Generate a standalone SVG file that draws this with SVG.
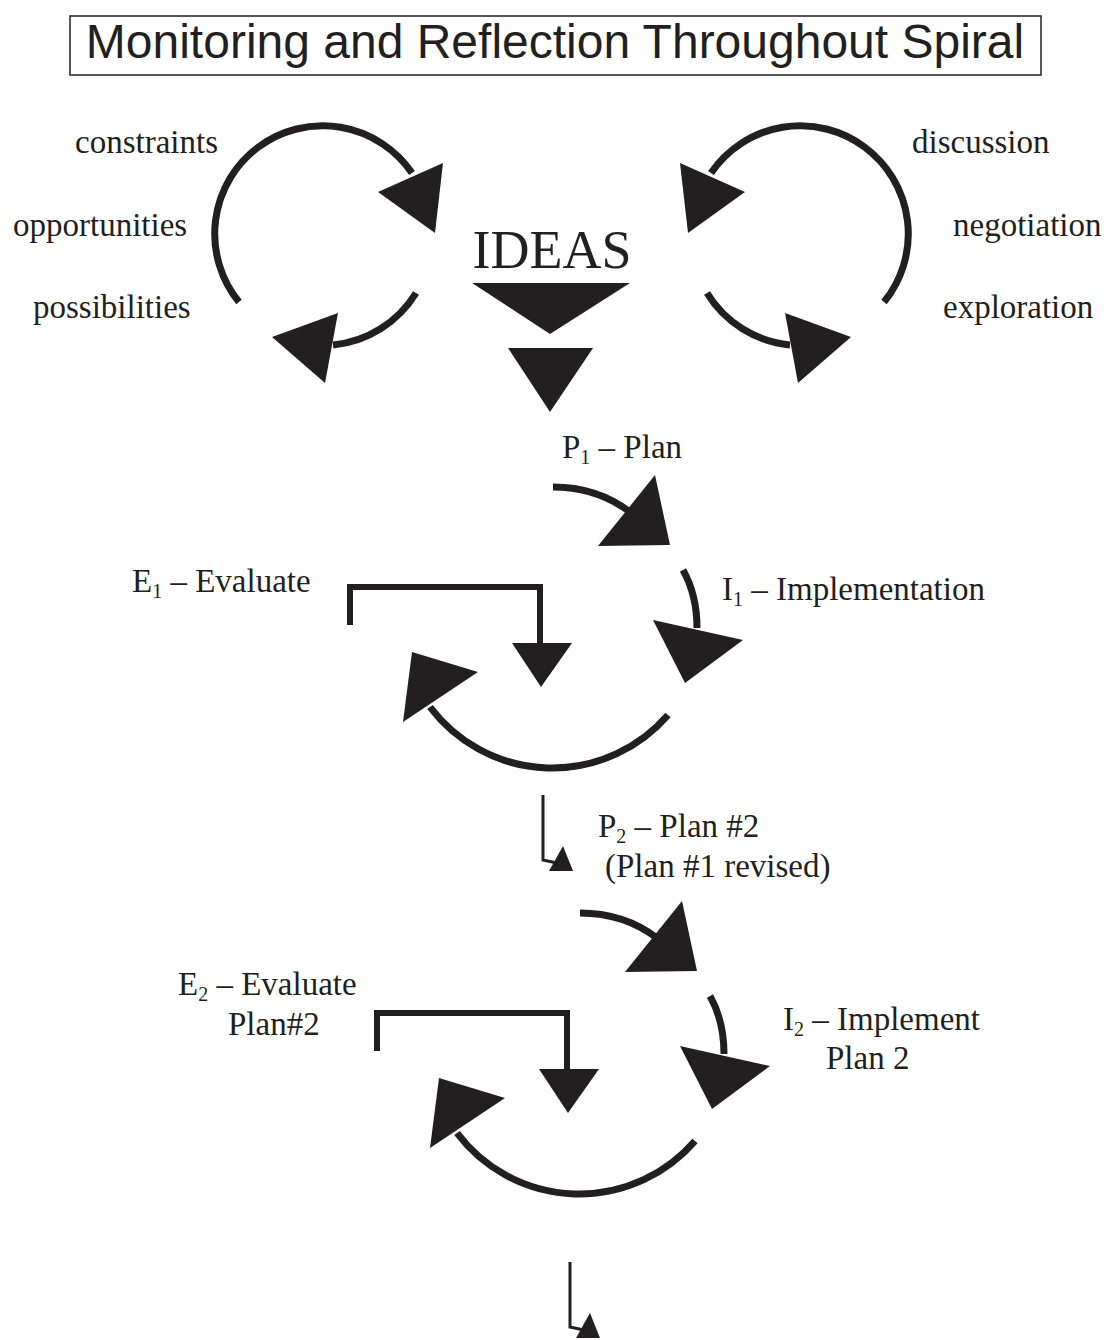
<svg xmlns="http://www.w3.org/2000/svg" width="1112" height="1340" viewBox="0 0 1112 1340">
<style>
.t{font-family:"Liberation Serif","Times New Roman",serif;font-size:33px;fill:#231f20}
.sub{font-size:20px}
.arc{fill:none;stroke:#231f20;stroke-width:7}
.br{fill:none;stroke:#231f20;stroke-width:6;stroke-linejoin:miter}
.thin{fill:none;stroke:#231f20;stroke-width:3;stroke-linejoin:miter}
.head{fill:#231f20}
</style>
<rect width="1112" height="1340" fill="#fff"/>
<g id="title">
<rect x="70" y="16" width="971" height="59" fill="none" stroke="#231f20" stroke-width="1.5"/>
<text x="555" y="58" text-anchor="middle" font-family="'Liberation Sans',Arial,sans-serif" font-size="48" fill="#231f20">Monitoring and Reflection Throughout Spiral</text>
</g>
<g id="left-labels">
<text class="t" x="75" y="153">constraints</text>
<text class="t" x="13" y="236">opportunities</text>
<text class="t" x="33" y="318">possibilities</text>
</g>
<g id="right-labels">
<text class="t" x="912" y="153">discussion</text>
<text class="t" x="953" y="236">negotiation</text>
<text class="t" x="943" y="318">exploration</text>
</g>
<g id="ideas">
<text x="552" y="268" text-anchor="middle" font-family="'Liberation Serif','Times New Roman',serif" font-size="54" fill="#231f20">IDEAS</text>
<polygon class="head" points="472,283 630,283 550,334"/>
<polygon class="head" points="508,348 593,348 550,412"/>
</g>
<g id="p1"><text class="t" x="562" y="458">P<tspan class="sub" dy="6">1</tspan><tspan dy="-6"> – Plan</tspan></text></g>
<g id="i1"><text class="t" x="722" y="600">I<tspan class="sub" dy="6">1</tspan><tspan dy="-6"> – Implementation</tspan></text></g>
<g id="e1"><text class="t" x="132" y="592">E<tspan class="sub" dy="6">1</tspan><tspan dy="-6"> – Evaluate</tspan></text></g>
<g id="p2">
<text class="t" x="598" y="837">P<tspan class="sub" dy="6">2</tspan><tspan dy="-6"> – Plan #2</tspan></text>
<text class="t" x="605" y="877">(Plan #1 revised)</text>
</g>
<g id="e2">
<text class="t" x="178" y="995">E<tspan class="sub" dy="6">2</tspan><tspan dy="-6"> – Evaluate</tspan></text>
<text class="t" x="228" y="1035">Plan#2</text>
</g>
<g id="i2">
<text class="t" x="783" y="1030">I<tspan class="sub" dy="6">2</tspan><tspan dy="-6"> – Implement</tspan></text>
<text class="t" x="826" y="1069">Plan 2</text>
</g>
<g id="connectors">
<path class="arc" d="M239,302 A108,108 0 1 1 412,173"/>
<polygon class="head" points="443,163 378,192 435,233"/>
<path class="arc" d="M416,293 A110,110 0 0 1 333,345"/>
<polygon class="head" points="338,313 272,337 325,383"/>
<path class="arc" d="M884,302 A108,108 0 1 0 711,173"/>
<polygon class="head" points="680,163 745,192 688,233"/>
<path class="arc" d="M707,293 A110,110 0 0 0 790,345"/>
<polygon class="head" points="785,313 851,337 798,383"/>
<g id="spiral1">
<path class="arc" d="M553,487 Q597,487 630,512"/>
<polygon class="head" points="655,475 598,546 670,545"/>
<path class="arc" d="M683,570 Q697,595 697,628"/>
<polygon class="head" points="653,620 743,640 685,683"/>
<path class="arc" d="M668,715 A153,153 0 0 1 430,707"/>
<polygon class="head" points="412,652 478,672 403,722"/>
<polyline class="br" points="350,625 350,587 540,587 540,645"/>
<polygon class="head" points="512,643 572,643 541,687"/>
</g>
<g id="spiral2" transform="translate(27,426)">
<path class="arc" d="M553,487 Q597,487 630,512"/>
<polygon class="head" points="655,475 598,546 670,545"/>
<path class="arc" d="M683,570 Q697,595 697,628"/>
<polygon class="head" points="653,620 743,640 685,683"/>
<path class="arc" d="M668,715 A153,153 0 0 1 430,707"/>
<polygon class="head" points="412,652 478,672 403,722"/>
<polyline class="br" points="350,625 350,587 540,587 540,645"/>
<polygon class="head" points="512,643 572,643 541,687"/>
</g>
<g id="small1">
<polyline class="thin" points="543,795 543,860 557,863"/>
<polygon class="head" points="563,846 573,871 549,871"/>
</g>
<g id="small2" transform="translate(27,467)">
<polyline class="thin" points="543,795 543,860 557,863"/>
<polygon class="head" points="563,846 573,871 549,871"/>
</g>
</g>
</svg>
